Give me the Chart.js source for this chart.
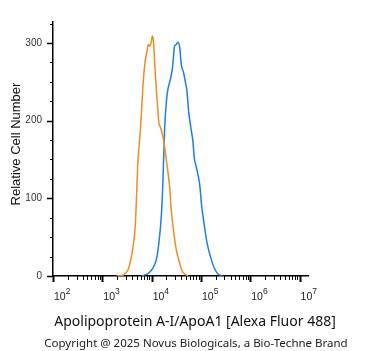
<!DOCTYPE html>
<html lang="en">
<head>
<meta charset="UTF-8">
<title>Apolipoprotein A-I/ApoA1 histogram</title>
<script src="https://cdn.jsdelivr.net/npm/chart.js"></script>
<style>
  html, body { margin: 0; padding: 0; background: #fff; }
  .container { width: 371px; height: 351px; position: relative; }
</style>
</head>
<body>
<div class="container">
  <canvas id="grafico" width="371" height="351"></canvas>
</div>
<script>
// control (orange) histogram
const controlX = [1940, 2630, 3320, 3890, 4540, 4910, 5290, 5910, 6370, 6890, 7460, 8040, 8580, 9120, 9690, 10330,
  10970, 11500, 12450, 13400, 14040, 15700, 17460, 19800, 23100, 25000, 28200, 31600, 36800, 42900, 54100];
const controlY = [0, 1, 8, 25, 55, 98, 150, 188, 223, 257, 279, 289, 298, 296, 300, 309,
  300, 275, 240, 214, 197, 188, 175, 150, 116, 85, 55, 34, 17, 5, 0];

// stained (blue) histogram
const stainedX = [6200, 8410, 10600, 12440, 14040, 15700, 16900, 18300, 19800, 21300, 23900, 26200, 27800, 29100,
  31600, 34000, 36800, 38500, 40400, 44300, 48600, 51600, 56700, 63400, 68300, 73900, 80000, 93300,
  103800, 117700, 133400, 155600, 181500, 218500, 275400];
const stainedY = [0, 3, 10, 21, 43, 77, 120, 188, 223, 240, 253, 266, 283, 296,
  298, 301, 296, 283, 270, 262, 249, 240, 210, 188, 175, 150, 141, 120,
  89, 64, 42, 25, 12, 3, 0];

const yTicks = [0, 100, 200, 300];
const xDecades = [2, 3, 4, 5, 6, 7];

const xTitle = 'Apolipoprotein A-I/ApoA1 [Alexa Fluor 488]';
const yTitle = 'Relative Cell Number';
const footer = 'Copyright @ 2025 Novus Biologicals, a Bio-Techne Brand';

function pts(xs, ys) {
  return xs.map((x, i) => ({ x: x, y: ys[i] }));
}

// axis ticks, labels and titles
const axisDecor = {
  id: 'axisDecor',
  afterDraw(chart) {
    const ctx = chart.ctx;
    const xs = chart.scales.x, ys = chart.scales.y;
    const area = chart.chartArea;
    ctx.save();
    ctx.strokeStyle = '#000';
    ctx.fillStyle = '#333';

    // y ticks every 25, labelled every 100
    for (let v = 0; v <= 325; v += 25) {
      const py = Math.round(ys.getPixelForValue(v)) + 0.5;
      const major = v % 100 === 0;
      ctx.lineWidth = major ? 1.5 : 1;
      ctx.beginPath();
      ctx.moveTo(area.left - (major ? 6 : 3), py);
      ctx.lineTo(area.left, py);
      ctx.stroke();
    }
    ctx.font = '10px "Liberation Sans", Arial, sans-serif';
    ctx.textAlign = 'right';
    ctx.textBaseline = 'middle';
    yTicks.forEach(v => {
      ctx.fillText(String(v), area.left - 11, ys.getPixelForValue(v));
    });

    // x ticks: decades and minor
    const by = area.bottom;
    xDecades.forEach(d => {
      for (let m = 1; m <= 9; m++) {
        const v = m * Math.pow(10, d);
        if (d === 7 && m > 1) break;
        const px = Math.round(xs.getPixelForValue(v)) + 0.5;
        const major = m === 1;
        ctx.lineWidth = major ? 2 : 1;
        ctx.beginPath();
        ctx.moveTo(px, by);
        ctx.lineTo(px, by + (major ? 6 : 4));
        ctx.stroke();
      }
    });
    ctx.fillStyle = '#222';
    ctx.textBaseline = 'alphabetic';
    xDecades.forEach(d => {
      const px = xs.getPixelForValue(Math.pow(10, d));
      ctx.textAlign = 'left';
      ctx.font = '10.5px "Liberation Sans", Arial, sans-serif';
      const x0 = px + 1;
      ctx.fillText('10', x0, 300);
      const w = ctx.measureText('10').width;
      ctx.font = '8.5px "Liberation Sans", Arial, sans-serif';
      ctx.fillText(String(d), x0 + w, 294);
    });

    // y title
    ctx.fillStyle = '#111';
    ctx.font = '13px "Liberation Sans", Arial, sans-serif';
    ctx.textAlign = 'center';
    ctx.textBaseline = 'middle';
    ctx.translate(16, 144);
    ctx.rotate(-Math.PI / 2);
    ctx.fillText(yTitle, 0, 0);
    ctx.setTransform(1, 0, 0, 1, 0, 0);

    // x title and footer
    ctx.fillStyle = '#111';
    ctx.font = '14px "Noto Sans", sans-serif';
    ctx.fillText(xTitle, 195, 322);
    ctx.fillStyle = '#222';
    ctx.font = '11.5px "Noto Sans", sans-serif';
    ctx.fillText(footer, 196, 344);
    ctx.restore();
  }
};

const ctx = document.getElementById('grafico').getContext('2d');
new Chart(ctx, {
  type: 'line',
  data: {
    datasets: [
      {
        label: 'Control',
        data: pts(controlX, controlY),
        borderColor: '#f08c24',
        borderWidth: 1.5,
        pointRadius: 0,
        tension: 0.3,
        fill: false
      },
      {
        label: 'Apolipoprotein A-I/ApoA1',
        data: pts(stainedX, stainedY),
        borderColor: '#1f7de6',
        borderWidth: 1.5,
        pointRadius: 0,
        tension: 0.3,
        fill: false
      }
    ]
  },
  options: {
    responsive: false,
    animation: false,
    layout: { padding: { left: 53, top: 22, right: 63, bottom: 75 } },
    plugins: {
      legend: { display: false },
      tooltip: { enabled: false },
      title: { display: false }
    },
    scales: {
      x: {
        type: 'logarithmic',
        min: 100,
        max: 14800000,
        grid: { display: false, drawTicks: false },
        border: { display: true, color: '#000', width: 1.5 },
        ticks: { display: false },
        afterFit: s => { s.height = 0; }
      },
      y: {
        type: 'linear',
        min: 0,
        max: 327,
        grid: { display: false, drawTicks: false },
        border: { display: true, color: '#000', width: 1.5 },
        ticks: { display: false },
        afterFit: s => { s.width = 0; }
      }
    }
  },
  plugins: [axisDecor]
});
</script>
</body>
</html>
